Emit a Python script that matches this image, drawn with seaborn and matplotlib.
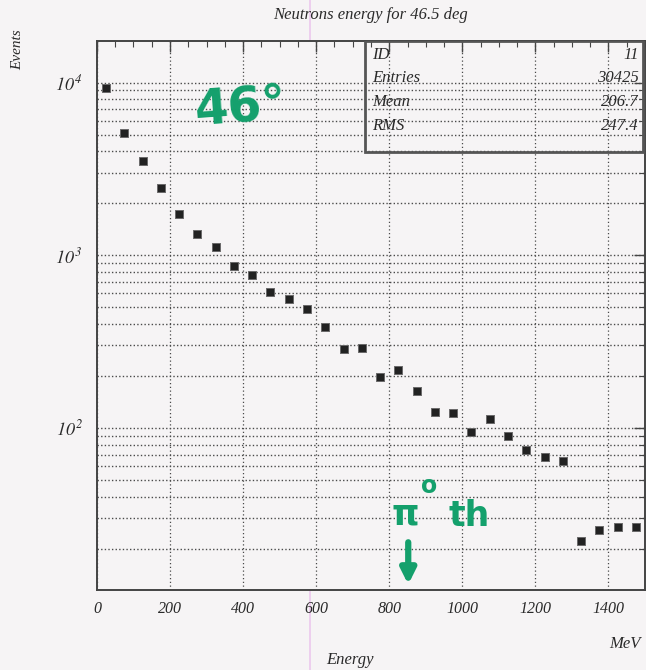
import numpy as np
import pandas as pd
import seaborn as sns
import matplotlib.pyplot as plt
import matplotlib.patches as mpatches
from matplotlib.lines import Line2D
from matplotlib.ticker import LogLocator, MultipleLocator, FixedLocator

# histogram of neutron energies, 50 MeV bins
energy_mev = [25, 75, 125, 175, 225, 275, 325, 375, 425, 475,
              525, 575, 625, 675, 725, 775, 825, 875, 925, 975,
              1025, 1075, 1125, 1175, 1225, 1275, 1325, 1375, 1425, 1475]
events = [9280, 5090, 3535, 2466, 1721, 1325, 1114, 871, 770, 611,
          559, 490, 386, 286, 290, 198, 215, 164, 124, 122,
          94, 112, 90, 74, 68, 64, 22, 25.5, 26.5, 26.5]

stat_names = ['ID', 'Entries', 'Mean', 'RMS']
stat_values = ['11', '30425', '206.7', '247.4']

x_ticks = [0, 200, 400, 600, 800, 1000, 1200, 1400]

df = pd.DataFrame({'energy': energy_mev, 'events': events})

sns.set_style('white')
plt.rcParams['font.family'] = ['Liberation Serif', 'DejaVu Serif']
plt.rcParams['font.style'] = 'italic'
plt.rcParams['mathtext.fontset'] = 'stix'
plt.rcParams['mathtext.default'] = 'it'

bg = '#f6f4f5'
ink = '#2a2a2a'
fig = plt.figure(figsize=(6.46, 6.70), dpi=100, facecolor=bg)
ax = fig.add_axes([0.150, 0.1194, 0.8485, 0.8194])
ax.set_facecolor(bg)

ax.set_yscale('log')
ax.set_xlim(0, 1500)
ax.set_ylim(11.5, 17400)

# ROOT style dotted grid
ax.xaxis.set_major_locator(FixedLocator(x_ticks))
ax.xaxis.set_minor_locator(MultipleLocator(50))
ax.yaxis.set_major_locator(LogLocator(base=10))
ax.yaxis.set_minor_locator(LogLocator(base=10, subs=np.arange(2, 10)))
ax.grid(True, which='major', axis='x', color='#4a4a4a', linestyle=(0, (1, 2)), lw=0.9)
ax.grid(True, which='both', axis='y', color='#4a4a4a', linestyle=(0, (1, 1.6)), lw=1.0)
ax.set_axisbelow(True)

sns.scatterplot(data=df, x='energy', y='events', ax=ax, marker='s', s=26,
                color='#222222', edgecolor='#6a6a6a', linewidth=0.7, zorder=3)

ax.tick_params(which='both', direction='in', top=True, right=True,
               colors='#444444', labelcolor=ink, labelsize=11.5)
ax.tick_params(which='major', length=8, width=1)
ax.tick_params(which='minor', length=4, width=0.8)
ax.tick_params(axis='x', pad=8)
ax.tick_params(axis='y', pad=10)
ax.set_xticklabels([str(t) for t in x_ticks])
ax.set_yticks([100, 1000, 10000])
ax.set_yticklabels(['$10^{\\,2}$', '$10^{\\,3}$', '$10^{\\,4}$'], fontsize=13)
for s in ax.spines.values():
    s.set_color('#444444')
    s.set_linewidth(1.4)

ax.set_xlabel('')
ax.set_ylabel('')

# stats box
box = mpatches.Rectangle((0.489, 0.798), 0.508, 0.202, transform=ax.transAxes,
                         fill=False, edgecolor='#555555', lw=2, zorder=4)
ax.add_patch(box)
row_y = [0.975, 0.932, 0.889, 0.845]
for name, val, yy in zip(stat_names, stat_values, row_y):
    ax.text(0.502, yy, name, transform=ax.transAxes, fontsize=12,
            color=ink, va='center', ha='left', zorder=5)
    ax.text(0.988, yy, val, transform=ax.transAxes, fontsize=12,
            color=ink, va='center', ha='right', zorder=5)

fig.text(0.574, 1 - 15 / 670, 'Neutrons energy for 46.5 deg', ha='center',
         va='center', fontsize=12, color=ink)
fig.text(0.027, 1 - 50 / 670, 'Events', rotation=90, ha='center', va='center',
         fontsize=11, color=ink)
fig.text(350 / 646, 1 - 660 / 670, 'Energy', ha='center', va='center',
         fontsize=12, color=ink)
fig.text(625 / 646, 1 - 644 / 670, 'MeV', ha='center', va='center',
         fontsize=12, color=ink)

# green handwritten notes
green = '#14a06c'
hand = dict(color=green, fontweight='bold', fontfamily='DejaVu Sans',
            fontstyle='normal', ha='center', va='center', zorder=6)
ax.text(0.262, 0.88, '46°', transform=ax.transAxes, fontsize=35, rotation=4, **hand)
ax.text(0.562, 0.137, 'π', transform=ax.transAxes, fontsize=25, **hand)
ax.text(0.606, 0.19, 'o', transform=ax.transAxes, fontsize=17, **hand)
ax.text(0.68, 0.135, 'th', transform=ax.transAxes, fontsize=25, **hand)
ax.annotate('', xy=(0.568, 0.005), xytext=(0.568, 0.092), xycoords='axes fraction',
            textcoords='axes fraction', zorder=6,
            arrowprops=dict(arrowstyle='-|>', color=green, lw=4.5, mutation_scale=22))

# faint scanner streak
fig.add_artist(Line2D([310 / 646, 310 / 646], [0, 1], transform=fig.transFigure,
                      color='#e8b6ea', lw=1.2, alpha=0.7, zorder=0))

plt.savefig('out.png', dpi=100, facecolor=bg)
plt.close()
